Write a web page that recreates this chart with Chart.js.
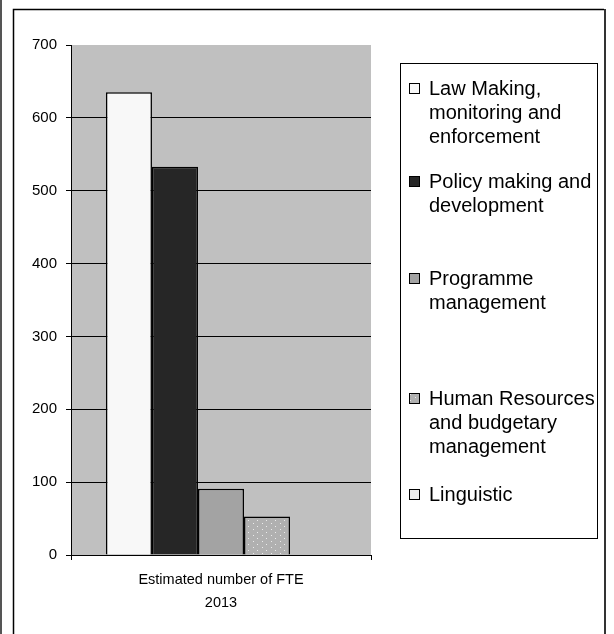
<!DOCTYPE html>
<html>
<head>
<meta charset="utf-8">
<script src="https://cdn.jsdelivr.net/npm/chart.js@4/dist/chart.umd.min.js"></script>
<style>
  html, body { margin: 0; padding: 0; background: #ffffff; }
  #wrap { width: 614px; height: 634px; position: relative; }
</style>
</head>
<body>
<div id="wrap"><canvas id="c" width="614" height="634"></canvas></div>
<script>
// Estimated number of FTE in 2013, by activity type
const categories = [["Estimated number of FTE", "2013"]];
const seriesNames = [
  ["Law Making,", "monitoring and", "enforcement"],
  ["Policy making and", "development"],
  ["Programme", "management"],
  ["Human Resources", "and budgetary", "management"],
  ["Linguistic"]
];
const seriesValues = [635, 533, 91, 53, 0];
const yTicks = [0, 100, 200, 300, 400, 500, 600, 700];

const FONT = "'Liberation Sans', Arial, sans-serif";

// dotted fill used for the HR series
function dotPattern() {
  const t = document.createElement('canvas');
  t.width = 9; t.height = 6;
  const g = t.getContext('2d');
  g.fillStyle = '#b0b0b0';
  g.fillRect(0, 0, 9, 6);
  g.fillStyle = '#ececec';
  g.fillRect(1, 1, 1, 1);
  g.fillRect(5, 4, 1, 1);
  return g.createPattern(t, 'repeat');
}

const canvas = document.getElementById('c');
const ctx = canvas.getContext('2d');
const fills = ['#f8f8f8', '#262626', '#a3a3a3', dotPattern(), '#eeeeee'];

const datasets = seriesNames.map((name, i) => ({
  label: name.join(' '),
  lines: name,
  data: [seriesValues[i]],
  backgroundColor: fills[i],
  borderColor: '#000000',
  borderWidth: seriesValues[i] > 0 ? 1.5 : 0,
  categoryPercentage: 0.767,
  barPercentage: 1.0
}));

// vertical centre of the first text line of each legend entry
const legendRowY = [88, 181, 278, 398, 494];

const framePlugin = {
  id: 'frame',
  beforeDraw(chart) {
    const c = chart.ctx;
    const a = chart.chartArea;
    c.save();
    c.fillStyle = '#ffffff';
    c.fillRect(0, 0, chart.width, chart.height);
    // outer frame
    c.strokeStyle = '#555555';
    c.lineWidth = 2;
    c.beginPath(); c.moveTo(1, 0); c.lineTo(1, chart.height); c.stroke();
    c.strokeStyle = '#000000';
    c.lineWidth = 1.5;
    c.beginPath();
    c.moveTo(13.5, chart.height); c.lineTo(13.5, 9.5); c.lineTo(604, 9.5);
    c.stroke();
    c.strokeStyle = '#333333';
    c.lineWidth = 2;
    c.beginPath(); c.moveTo(605, 9); c.lineTo(605, chart.height); c.stroke();
    // plot background
    c.fillStyle = '#c0c0c0';
    c.fillRect(a.left, a.top, a.right - a.left, a.bottom - a.top);
    c.restore();
  },
  afterDraw(chart) {
    const c = chart.ctx;
    c.save();
    // legend box
    c.strokeStyle = '#000000';
    c.lineWidth = 1;
    c.strokeRect(400.5, 63.5, 197, 475);
    c.font = '20px ' + FONT;
    c.textBaseline = 'middle';
    c.textAlign = 'left';
    chart.data.datasets.forEach((ds, i) => {
      const y = legendRowY[i];
      c.fillStyle = ds.backgroundColor;
      c.fillRect(409, y - 5, 11, 11);
      c.strokeStyle = '#000000';
      c.strokeRect(409.5, y - 4.5, 10, 10);
      c.fillStyle = '#000000';
      ds.lines.forEach((line, k) => {
        c.fillText(line, 429, y + 1 + k * 24);
      });
    });
    c.restore();
  }
};

new Chart(canvas, {
  type: 'bar',
  data: { labels: categories, datasets: datasets },
  options: {
    responsive: false,
    animation: false,
    devicePixelRatio: 1,
    layout: { padding: { top: 45, right: 243, bottom: 0, left: 0 } },
    plugins: {
      legend: { display: false },
      tooltip: { enabled: false }
    },
    scales: {
      x: {
        grid: {
          drawOnChartArea: false,
          drawTicks: true,
          tickLength: 5,
          color: '#000000',
          tickColor: '#000000'
        },
        border: { display: true, color: '#000000', width: 1 },
        ticks: {
          color: '#000000',
          font: { family: FONT, size: 14.5, lineHeight: 1.6 },
          padding: 8
        },
        afterFit(scale) { scale.height = 79; }
      },
      y: {
        min: 0,
        max: 700,
        afterBuildTicks(scale) { scale.ticks = yTicks.map(v => ({ value: v })); },
        grid: {
          color: (c) => (c.tick && c.tick.value === 700 ? 'rgba(0,0,0,0)' : '#000000'),
          tickColor: '#000000',
          tickLength: 5,
          lineWidth: 1
        },
        border: { display: true, color: '#000000', width: 1 },
        ticks: {
          color: '#000000',
          font: { family: FONT, size: 15 },
          padding: 9
        },
        afterFit(scale) { scale.width = 71; }
      }
    }
  },
  plugins: [framePlugin]
});
</script>
</body>
</html>
